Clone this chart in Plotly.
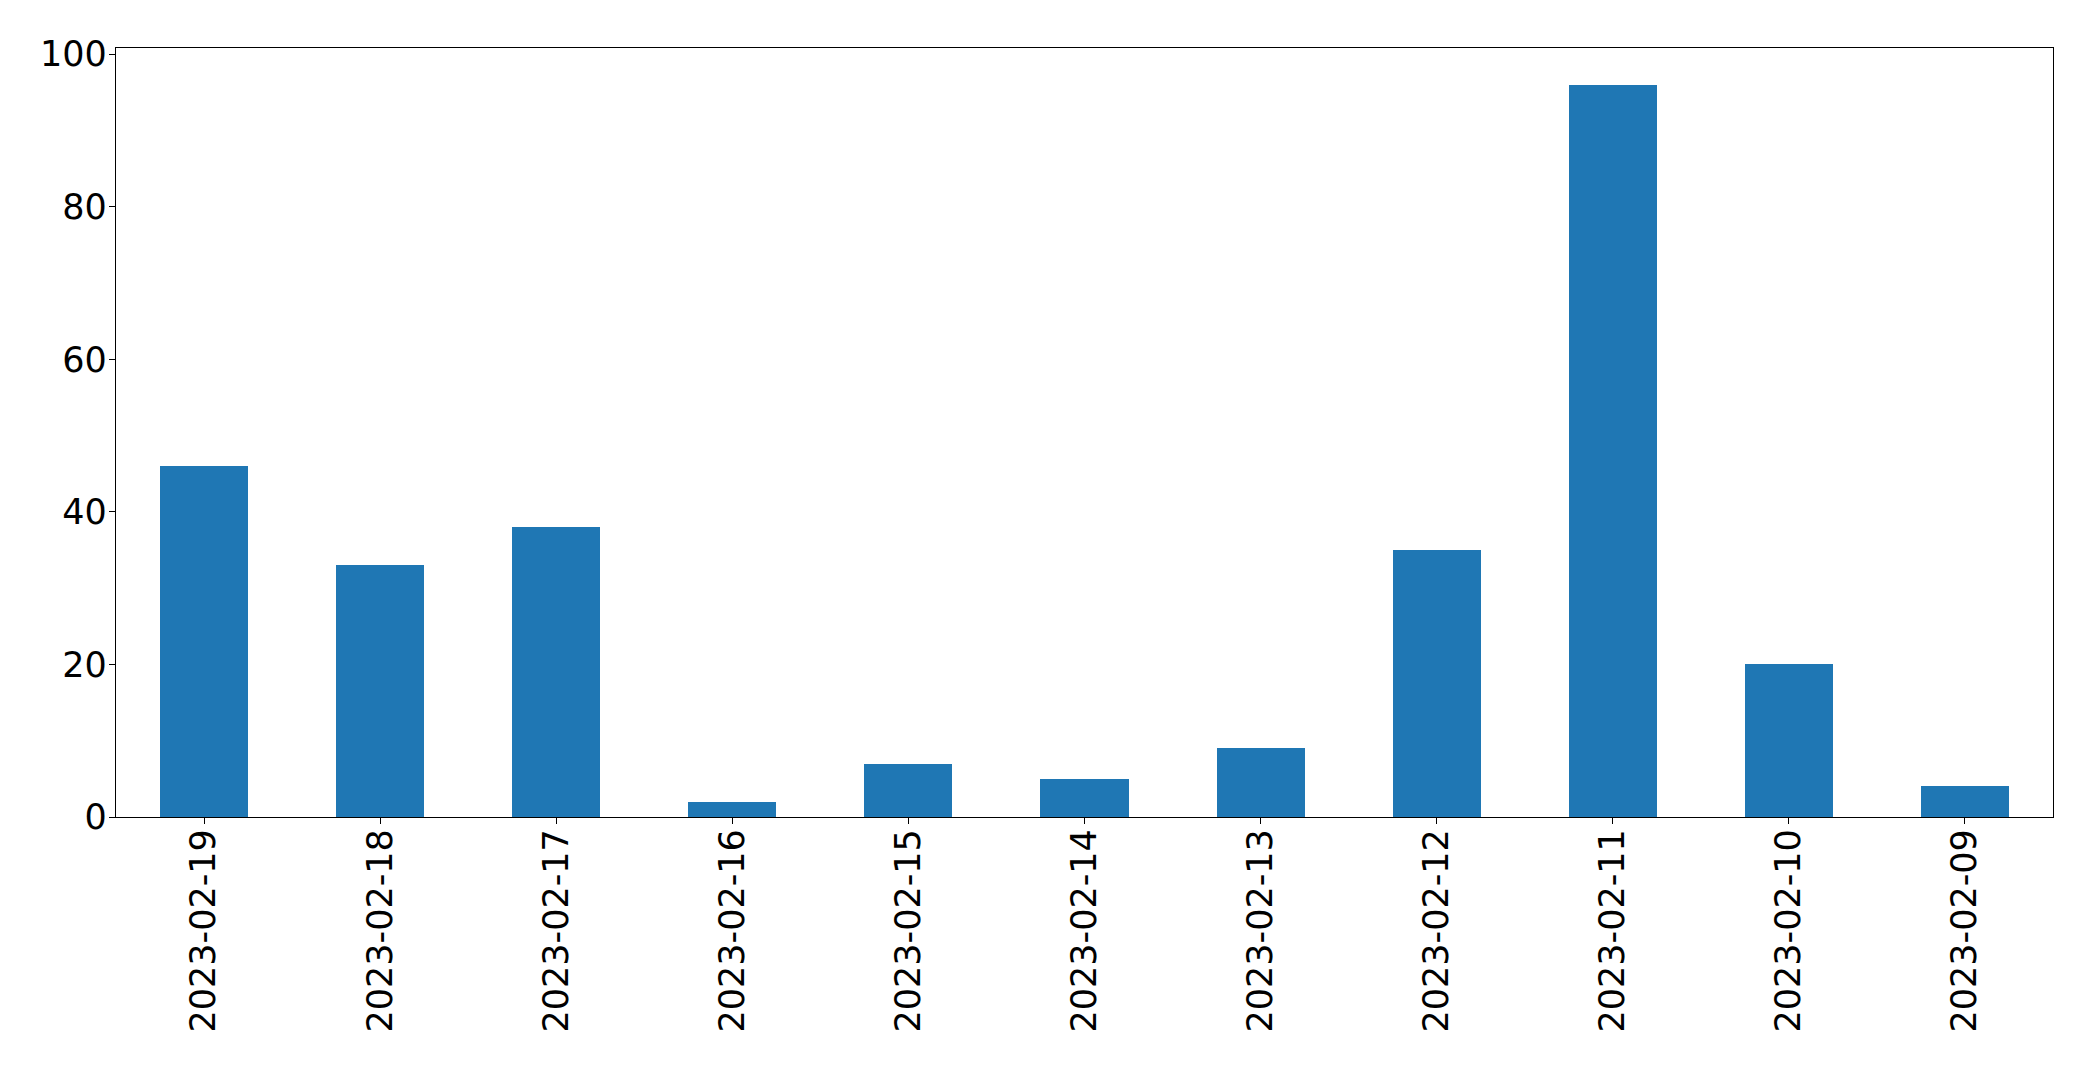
import plotly.graph_objects as go

dates = ["2023-02-19", "2023-02-18", "2023-02-17", "2023-02-16", "2023-02-15",
         "2023-02-14", "2023-02-13", "2023-02-12", "2023-02-11", "2023-02-10", "2023-02-09"]
counts = [46, 33, 38, 2, 7, 5, 9, 35, 96, 20, 4]
y_ticks = [0, 20, 40, 60, 80, 100]

positions = list(range(len(dates)))

fig = go.Figure(go.Bar(x=positions, y=counts, width=0.5, marker_color="#1f77b4",
                       marker_line_width=0))

axis_common = dict(showline=True, linecolor="black", linewidth=1.3, mirror=True,
                   ticks="outside", ticklen=6, tickwidth=1.3, tickcolor="black",
                   showgrid=False, zeroline=False,
                   tickfont=dict(family="DejaVu Sans", size=35, color="black"))

fig.update_xaxes(range=[-0.5, len(dates) - 0.5], tickvals=positions, ticktext=dates,
                 tickangle=-90, ticklabelstandoff=-9, **axis_common)
fig.update_yaxes(range=[0, max(counts) * 1.05], tickvals=y_ticks,
                 ticklabelstandoff=-5, **axis_common)

fig.update_layout(width=2093, height=1069, margin=dict(l=108, r=48, t=40, b=260),
                  plot_bgcolor="white", paper_bgcolor="white", showlegend=False,
                  bargap=0)

fig.write_html("out.html")
